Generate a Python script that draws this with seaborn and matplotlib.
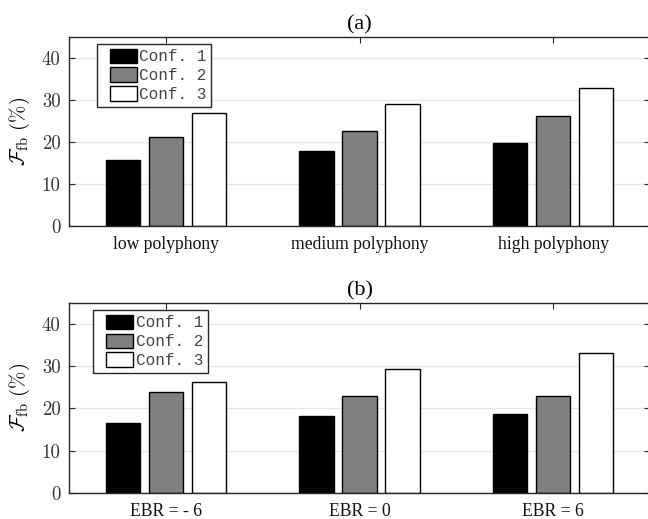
import matplotlib
matplotlib.use("Agg")
import matplotlib.pyplot as plt
from matplotlib.patches import Rectangle
from matplotlib.legend_handler import HandlerPatch
import seaborn as sns
import pandas as pd

# ---- data ----
categories_a = ["low polyphony", "medium polyphony", "high polyphony"]
categories_b = ["EBR = - 6", "EBR = 0", "EBR = 6"]
configs = ["Conf. 1", "Conf. 2", "Conf. 3"]
conf1_a = [15.7, 17.8, 19.8]
conf2_a = [21.1, 22.5, 26.1]
conf3_a = [26.8, 29.1, 32.8]
conf1_b = [16.5, 18.1, 18.6]
conf2_b = [23.9, 23.0, 22.9]
conf3_b = [26.3, 29.3, 33.1]
yticks = [0, 10, 20, 30, 40]
titles = ["(a)", "(b)"]

sns.set_theme(style="white")
plt.rcParams["font.family"] = ["Liberation Serif", "DejaVu Serif"]
plt.rcParams["mathtext.fontset"] = "cm"

AX_COL = "#262626"
palette = {"Conf. 1": "#000000", "Conf. 2": "#808080", "Conf. 3": "#ffffff"}


def make_df(cats, s1, s2, s3):
    rows = []
    for c, v1, v2, v3 in zip(cats, s1, s2, s3):
        rows.append((c, "Conf. 1", v1))
        rows.append((c, "Conf. 2", v2))
        rows.append((c, "Conf. 3", v3))
    return pd.DataFrame(rows, columns=["cat", "conf", "val"])


def shifted_patch(legend, orig_handle, xdescent, ydescent, width, height, fontsize):
    w = 19.5  # points
    return Rectangle((-xdescent + width - w, -ydescent), w, height)


fig = plt.figure(figsize=(6.48, 5.19), dpi=100)
ax_a = fig.add_axes([69 / 648, 1 - 226 / 519, (650 - 69) / 648, (226 - 36.7) / 519])
ax_b = fig.add_axes([69 / 648, 1 - 493 / 519, (650 - 69) / 648, (493 - 302.7) / 519])

panels = [
    (ax_a, make_df(categories_a, conf1_a, conf2_a, conf3_a), categories_a, titles[0], 0.048),
    (ax_b, make_df(categories_b, conf1_b, conf2_b, conf3_b), categories_b, titles[1], 0.042),
]

for ax, df, cats, title, lx in panels:
    ax.set_axisbelow(True)
    ax.yaxis.grid(True, color="#e6e6e6", linewidth=1.0)
    ax.xaxis.grid(False)
    sns.barplot(data=df, x="cat", y="val", hue="conf", order=cats, hue_order=configs,
                palette=palette, width=0.666, gap=0.2, edgecolor="black", linewidth=1.0,
                saturation=1, ax=ax, legend=True)
    ax.set_xlim(-0.5, 2.5)
    ax.set_ylim(0, 45)
    ax.set_yticks(yticks)
    ax.set_yticklabels([str(v) for v in yticks], fontfamily="cmr10")
    ax.set_xlabel("")
    ax.set_ylabel(r"$\mathcal{F}_{\rm fb}\ (\%)$", fontsize=15, color="black", labelpad=7)
    ax.set_title(title, fontsize=16, pad=5, color="black")
    for sp in ax.spines.values():
        sp.set_visible(True)
        sp.set_color(AX_COL)
        sp.set_linewidth(1.0)
    ax.tick_params(axis="both", which="both", direction="in", length=4, width=0.8,
                   color=AX_COL, labelcolor="#333333", labelsize=12.7,
                   top=True, right=True, bottom=True, left=True)
    ax.tick_params(axis="x", pad=7, labelcolor="#111111")
    ax.tick_params(axis="y", pad=6, labelsize=13.5)

    handles, labels = ax.get_legend_handles_labels()
    leg = ax.legend(handles, labels, loc="upper left", bbox_to_anchor=(lx, 0.962),
                    prop={"family": "Liberation Mono", "size": 11.5},
                    frameon=True, fancybox=False, borderpad=0.3, borderaxespad=0,
                    handlelength=2.2, handleheight=1.0, handletextpad=0.15,
                    labelspacing=0.2,
                    handler_map={Rectangle: HandlerPatch(patch_func=shifted_patch)})
    fr = leg.get_frame()
    fr.set_edgecolor(AX_COL)
    fr.set_linewidth(1.0)
    fr.set_facecolor("white")
    fr.set_alpha(1)
    for t in leg.get_texts():
        t.set_color("#444444")

fig.savefig("out.png", dpi=100)
